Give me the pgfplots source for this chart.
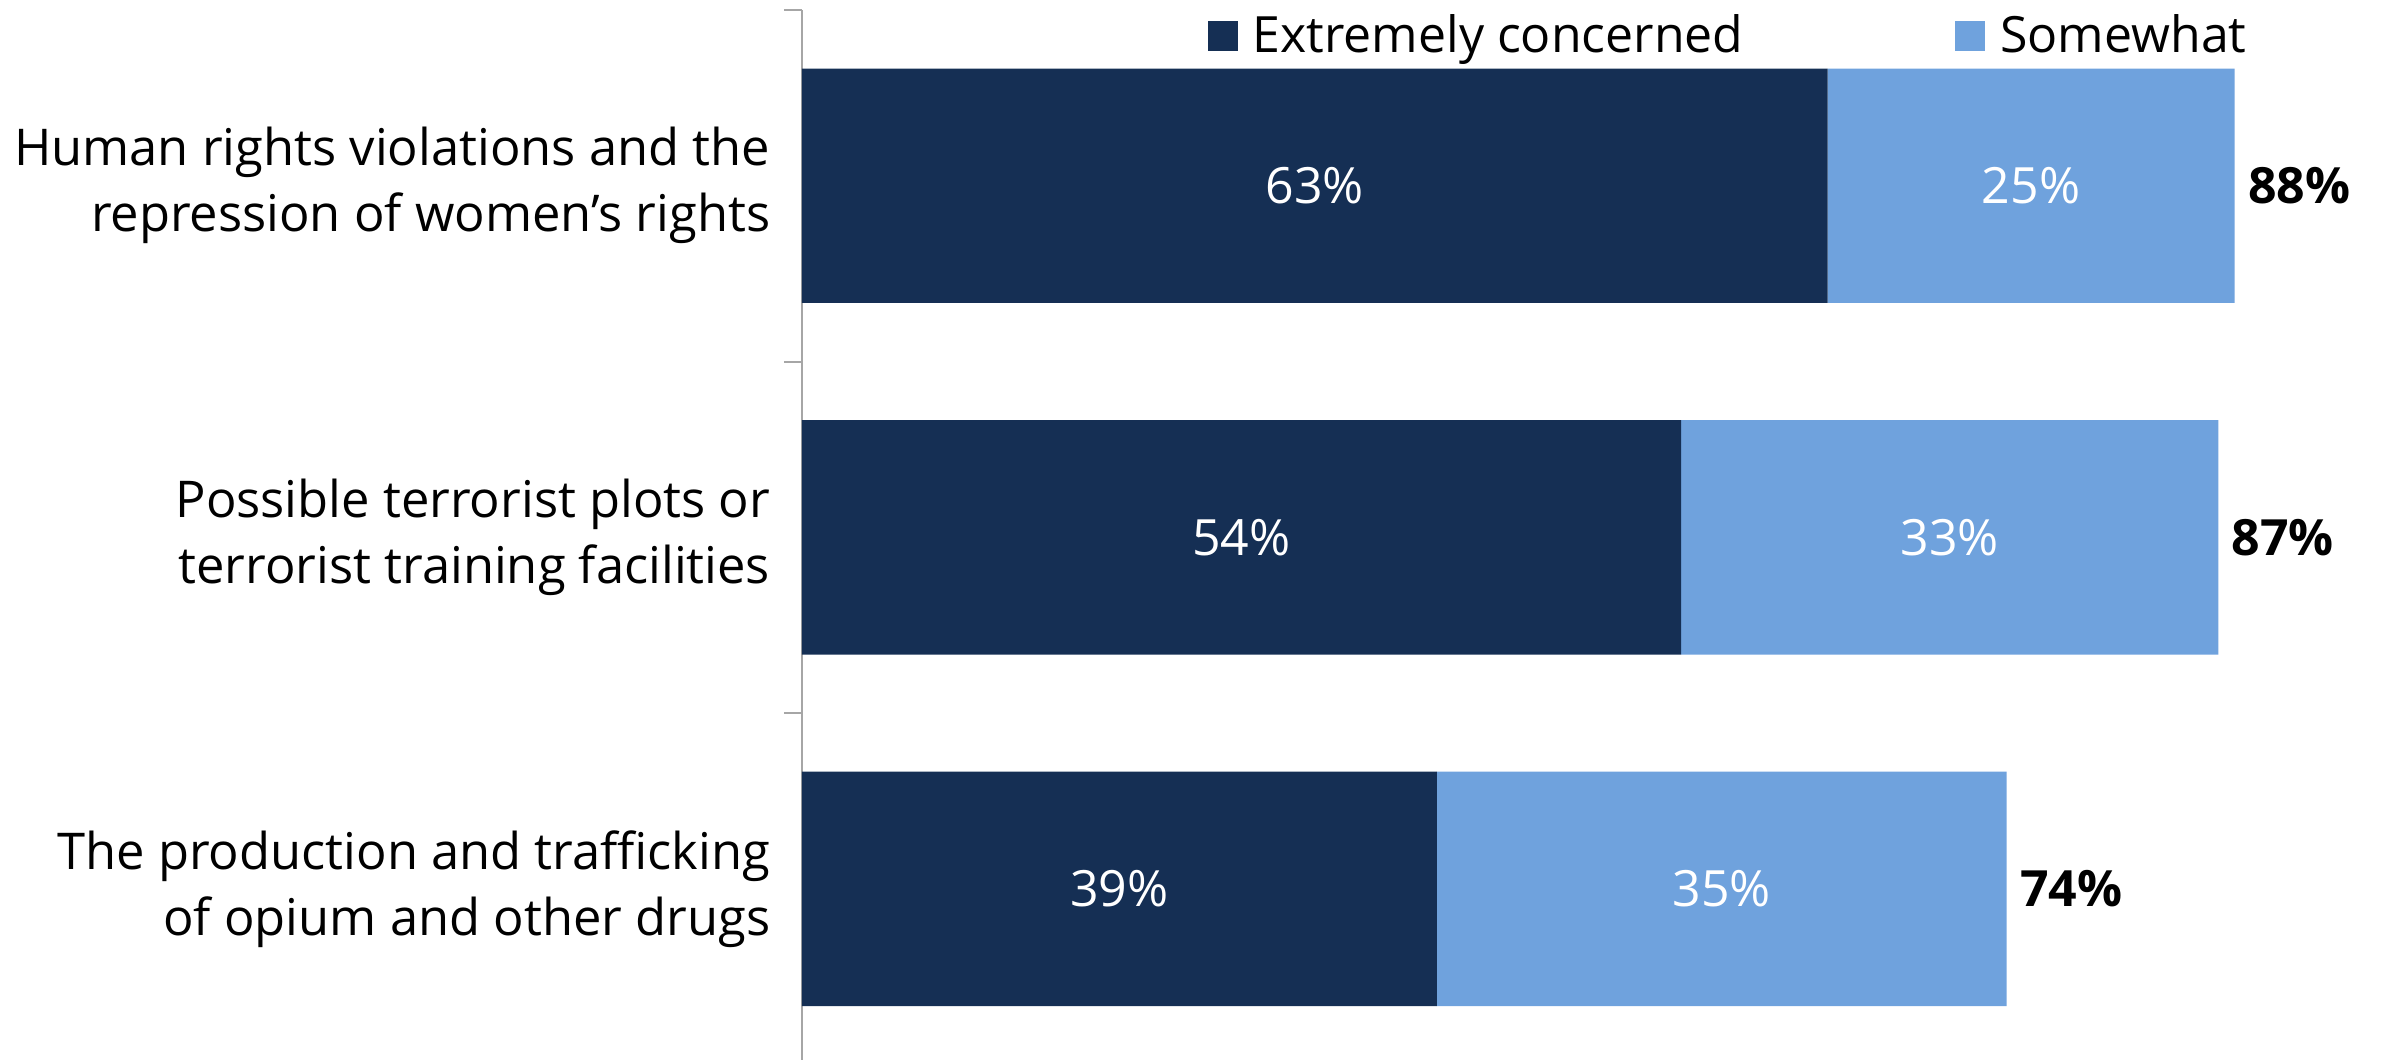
\documentclass[border=0pt]{standalone}
\usepackage{fontspec}
\setmainfont{Open Sans}
\usepackage{pgfplots}
\pgfplotsset{compat=1.18}
\definecolor{darkbar}{RGB}{21,47,84}
\definecolor{lightbar}{RGB}{111,162,221}
\definecolor{axgray}{RGB}{166,166,166}
\begin{document}
\begin{tikzpicture}
\pgfplotsset{common/.style={
  scale only axis, width=475.2pt, height=315pt,
  at={(0,0)}, anchor=south west,
  xmin=0, xmax=97.3, ymin=0.5, ymax=3.487, y dir=reverse,
  /pgf/number format/assume math mode=true,
}}
\useasboundingbox (-240.6pt,0) rectangle (475.2pt,318pt);
\begin{axis}[common,
  xbar stacked, bar width=0.667,
  axis x line=none,
  axis y line*=left,
  axis line style={axgray, line width=0.6pt},
  ytick={1,2,3},
  yticklabels={{Human rights violations and the\\repression of women’s rights},
               {Possible terrorist plots or\\terrorist training facilities},
               {The production and trafficking\\of opium and other drugs}},
  yticklabel style={align=right, font=\fontsize{15.2pt}{19.8pt}\selectfont, xshift=-6pt},
  major tick length=0pt,
  minor ytick={0.5,1.5,2.5},
  minor tick length=5.4pt,
  tick align=outside,
  minor tick style={axgray, line width=0.6pt},
  legend style={draw=none, fill=none, at={(0.2557,0.975)}, anchor=west,
    inner sep=0pt, font=\fontsize{15pt}{18pt}\selectfont,
    /tikz/every odd column/.append style={column sep=2.5pt},
    /tikz/every even column/.append style={column sep=61.5pt}},
  legend columns=2,
  legend image code/.code={\fill[#1, draw=none] (0pt,-4.5pt) rectangle (9pt,4.5pt);},
]
\addplot[fill=darkbar, draw=none] coordinates {(63,1) (54,2) (39,3)};
\addlegendentry{Extremely concerned}
\addplot[fill=lightbar, draw=none] coordinates {(25,1) (33,2) (35,3)};
\addlegendentry{Somewhat}
\end{axis}
\begin{axis}[common, hide axis, clip=false]
\addplot[only marks, mark=none, nodes near coords={\pgfmathprintnumber{\pgfplotspointmeta}\%},
  point meta=explicit,
  nodes near coords style={anchor=center, white, font=\fontsize{15pt}{18pt}\selectfont}]
  table[meta=v] {
x y v
31.5 1 63
27 2 54
19.5 3 39
75.5 1 25
70.5 2 33
56.5 3 35
};
\addplot[only marks, mark=none, nodes near coords={\pgfmathprintnumber{\pgfplotspointmeta}\%},
  point meta=explicit,
  nodes near coords style={anchor=west, black, xshift=0.5pt, font=\fontsize{15pt}{18pt}\selectfont\bfseries}]
  table[meta=v] {
x y v
88 1 88
87 2 87
74 3 74
};
\end{axis}
\end{tikzpicture}
\end{document}
